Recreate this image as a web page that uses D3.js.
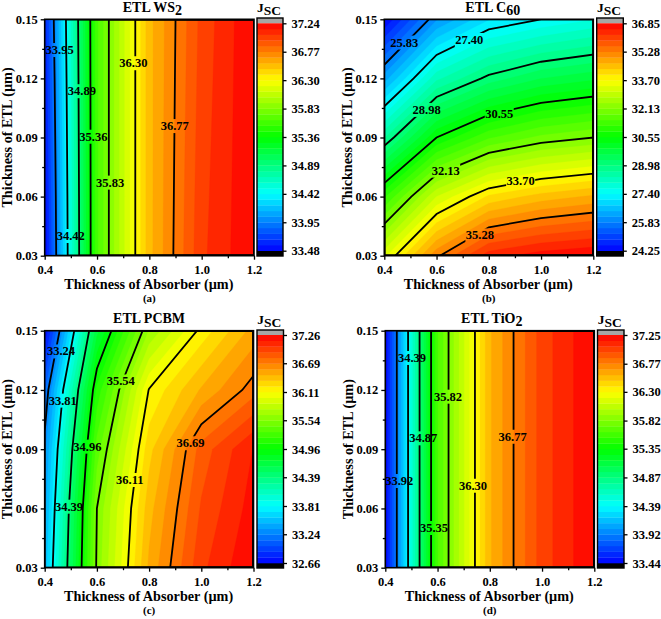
<!DOCTYPE html>
<html><head><meta charset="utf-8">
<script src="https://cdn.jsdelivr.net/npm/d3@7"></script>
<style>
html,body{margin:0;padding:0;background:#fff}
svg{display:block}
text{font-family:"Liberation Serif",serif;font-weight:bold;fill:#000}
</style></head><body>
<svg id="c" width="661" height="619"></svg>
<script>
// ---- data ----
const absorberGrid = [0.4, 0.6, 0.8, 1.0, 1.2];
const etlGrid = [0.03, 0.06, 0.09, 0.12, 0.15];
const xTicks = [0.4, 0.6, 0.8, 1.0, 1.2];
const yTicks = [0.03, 0.06, 0.09, 0.12, 0.15];

const titles = ["WS", "C", "PCBM", "TiO"];
const titleSubs = ["2", "60", "", "2"];
const panelTags = ["(a)", "(b)", "(c)", "(d)"];

// rows follow etlGrid, columns follow absorberGrid
const jscWS2 = [
  [33.48, 35.62, 36.55, 37.03, 37.24],
  [33.50, 35.62, 36.55, 37.02, 37.24],
  [33.53, 35.62, 36.55, 37.01, 37.24],
  [33.56, 35.62, 36.55, 37.00, 37.24],
  [33.60, 35.62, 36.55, 36.99, 37.24]
];
const jscC60 = [
  [33.30, 35.20, 36.40, 36.70, 36.85],
  [31.12, 33.07, 34.07, 34.47, 34.70],
  [28.63, 30.55, 31.45, 31.90, 32.13],
  [26.30, 28.26, 29.10, 29.60, 29.85],
  [24.25, 26.10, 27.05, 27.40, 27.70]
];
const jscPCBM = [
  [33.49, 35.57, 36.48, 37.00, 37.26],
  [33.40, 35.54, 36.41, 36.93, 37.20],
  [33.30, 35.36, 36.30, 36.85, 37.15],
  [33.10, 35.11, 36.12, 36.47, 36.75],
  [32.66, 34.69, 35.66, 36.15, 36.50]
];
const jscTiO2 = [
  [33.44, 35.62, 36.57, 37.01, 37.25],
  [33.44, 35.62, 36.57, 37.01, 37.25],
  [33.44, 35.62, 36.57, 37.01, 37.25],
  [33.44, 35.62, 36.57, 37.01, 37.25],
  [33.44, 35.62, 36.57, 37.01, 37.25]
];
const grids = [jscWS2, jscC60, jscPCBM, jscTiO2];

const scaleWS2 = [33.48, 33.95, 34.42, 34.89, 35.36, 35.83, 36.30, 36.77, 37.24];
const scaleC60 = [24.25, 25.83, 27.40, 28.98, 30.55, 32.13, 33.70, 35.28, 36.85];
const scalePCBM = [32.66, 33.24, 33.81, 34.39, 34.96, 35.54, 36.11, 36.69, 37.26];
const scaleTiO2 = [33.44, 33.92, 34.39, 34.87, 35.35, 35.82, 36.30, 36.77, 37.25];
const scales = [scaleWS2, scaleC60, scalePCBM, scaleTiO2];

// where each contour's label sits, in axis units
const labelAtWS2 = [[33.95,.457,.1344],[34.42,.4995,.0400],[34.89,.542,.1135],[35.36,.586,.0904],[35.83,.650,.0671],[36.30,.739,.1277],[36.77,.897,.0958]];
const labelAtC60 = [[25.83,.4766,.1382],[27.40,.7253,.1395],[28.98,.562,.104],[30.55,.840,.1018],[32.13,.635,.0732],[33.70,.922,.0679],[35.28,.766,.0403]];
const labelAtPCBM = [[33.24,.4626,.1395],[33.81,.469,.1146],[34.39,.4933,.0609],[34.96,.5636,.0913],[35.54,.6913,.1243],[36.11,.7259,.0744],[36.69,.9585,.0930]];
const labelAtTiO2 = [[33.92,.4536,.0739],[34.39,.502,.1362],[34.87,.5454,.0955],[35.35,.5863,.0501],[35.82,.64,.1166],[36.30,.7355,.0715],[36.77,.8874,.0963]];
const labelAts = [labelAtWS2, labelAtC60, labelAtPCBM, labelAtTiO2];

// ---- layout ----
const frames = [
  {l:44.7, r:254, t:19.3, b:255.7, bl:257, br:283, bt:18, bb:256, by1:23.3, by0:250.7, tdx:3},
  {l:384.3, r:593.3, t:19.3, b:255.7, bl:596.7, br:623.3, bt:18, bb:256, by1:23.3, by0:250.7, tdx:4},
  {l:44.7, r:253.5, t:330.7, b:567.7, bl:257, br:283.5, bt:330, bb:568, by1:335, by0:563, tdx:0},
  {l:385.3, r:594.3, t:330.7, b:567.7, bl:597.5, br:624, bt:330, bb:568, by1:335, by0:563, tdx:2}
];
const BANDS = 40;
const colour = d3.scaleLinear().domain([0,.25,.5,.75,1]).range(["#0000ff","#00ffff","#00ff00","#ffff00","#ff0000"]);
const svg = d3.select("#c");
const defs = svg.append("defs");

frames.forEach((f, p) => {
  const vals = grids[p], lv = scales[p];
  const min = lv[0], max = lv[lv.length-1];
  const x = d3.scaleLinear().domain([0.4,1.2]).range([f.l,f.r]);
  const y = d3.scaleLinear().domain([0.03,0.15]).range([f.b,f.t]);
  const col = d3.scaleLinear().domain(d3.range(absorberGrid.length)).range(absorberGrid);
  const row = d3.scaleLinear().domain(d3.range(etlGrid.length)).range(etlGrid);
  const g = svg.append("g");

  defs.append("clipPath").attr("id","clip"+p).append("rect")
    .attr("x",f.l).attr("y",f.t).attr("width",f.r-f.l).attr("height",f.b-f.t);

  const flat = vals.flat();
  const nx = absorberGrid.length, ny = etlGrid.length;
  const contours = d3.contours().size([nx,ny]).smooth(true);
  const path = d3.geoPath(d3.geoTransform({
    point(a,b){
      const c = Math.min(nx-1,Math.max(0,a-.5)), r = Math.min(ny-1,Math.max(0,b-.5));
      this.stream.point(x(col(c)), y(row(r)));
    }
  }));
  const plot = g.append("g").attr("clip-path",`url(#clip${p})`);
  const step = (max-min)/BANDS;
  const bandIdx = d3.range(BANDS);
  plot.append("rect").attr("x",f.l).attr("y",f.t).attr("width",f.r-f.l).attr("height",f.b-f.t)
    .attr("fill",colour(.5/BANDS));
  plot.selectAll("path.band").data(bandIdx.slice(1)).join("path").attr("class","band")
    .attr("d",i=>path(contours.contour(flat,min+i*step)))
    .attr("fill",i=>colour((i+.5)/BANDS)).attr("stroke",i=>colour((i+.5)/BANDS)).attr("stroke-width",.3);

  // contour lines, each broken under its own label only
  labelAts[p].forEach(([v,lx,ly],k)=>{
    const id = `m${p}_${k}`;
    const m = defs.append("mask").attr("id",id).attr("maskUnits","userSpaceOnUse")
      .attr("x",f.l).attr("y",f.t).attr("width",f.r-f.l).attr("height",f.b-f.t);
    m.append("rect").attr("x",f.l).attr("y",f.t).attr("width",f.r-f.l).attr("height",f.b-f.t).attr("fill","#fff");
    m.append("rect").attr("x",x(lx)-14.5).attr("y",y(ly)-7).attr("width",29).attr("height",14).attr("fill","#000");
    plot.append("g").attr("mask",`url(#${id})`).append("path")
      .attr("d",path(contours.contour(flat,v)))
      .attr("fill","none").attr("stroke","#000").attr("stroke-width",1.8);
  });
  labelAts[p].forEach(([v,lx,ly])=>{
    g.append("text").attr("x",x(lx)).attr("y",y(ly)+4).attr("text-anchor","middle")
      .attr("font-size",12.5).text(v.toFixed(2));
  });

  // frame
  g.append("rect").attr("x",f.l).attr("y",f.t).attr("width",f.r-f.l).attr("height",f.b-f.t)
    .attr("fill","none").attr("stroke","#000").attr("stroke-width",1.6);

  // axes
  const style = s=>{s.select(".domain").remove();s.selectAll("line").attr("stroke","#000").attr("stroke-width",1.3);
    s.selectAll("text").attr("font-size",12.5);};
  const xMinor = d3.pairs(xTicks).map(d=>(d[0]+d[1])/2);
  const yMinor = d3.pairs(yTicks).map(d=>(d[0]+d[1])/2);
  g.append("g").attr("transform",`translate(0,${f.b})`)
    .call(d3.axisBottom(x).tickValues(xTicks).tickFormat(d3.format(".1f")).tickSize(4).tickPadding(5)).call(style);
  g.append("g").attr("transform",`translate(0,${f.b})`)
    .call(d3.axisBottom(x).tickValues(xMinor).tickFormat("").tickSize(2.5)).call(style);
  g.append("g").attr("transform",`translate(${f.l},0)`)
    .call(d3.axisLeft(y).tickValues(yTicks).tickFormat(d3.format(".2f")).tickSize(4).tickPadding(3)).call(style);
  g.append("g").attr("transform",`translate(${f.l},0)`)
    .call(d3.axisLeft(y).tickValues(yMinor).tickFormat("").tickSize(2.5)).call(style);

  // axis titles
  const cx = (f.l+f.r)/2;
  g.append("text").attr("x",cx-.5).attr("y",f.b+33).attr("text-anchor","middle").attr("font-size",14.2).text("Thickness of Absorber (µm)");
  g.append("text").attr("x",cx).attr("y",f.b+46.2).attr("text-anchor","middle").attr("font-size",11).text(panelTags[p]);
  g.append("text").attr("transform",`translate(${f.l-32.5},${(f.t+f.b)/2}) rotate(-90)`).attr("text-anchor","middle")
    .attr("font-size",14.2).text("Thickness of ETL (µm)");

  // title
  const tt = g.append("text").attr("x",cx+f.tdx).attr("y",f.t-7.5).attr("text-anchor","middle").attr("font-size",14);
  tt.append("tspan").text("ETL "+titles[p]);
  if(titleSubs[p]) tt.append("tspan").attr("dy",3).text(titleSubs[p]);

  // colour bar
  const by = d3.scaleLinear().domain([min,max]).range([f.by0,f.by1]);
  g.append("rect").attr("x",f.bl).attr("y",f.bt).attr("width",f.br-f.bl).attr("height",f.by1-f.bt).attr("fill","#a6a6a6");
  g.append("rect").attr("x",f.bl).attr("y",f.by0).attr("width",f.br-f.bl).attr("height",f.bb-f.by0).attr("fill","#000");
  g.selectAll("rect.cb").data(bandIdx).join("rect").attr("class","cb")
    .attr("x",f.bl).attr("width",f.br-f.bl)
    .attr("y",i=>by(min+(i+1)*step)).attr("height",i=>by(min+i*step)-by(min+(i+1)*step)+.3)
    .attr("fill",i=>colour((i+.5)/BANDS));
  g.append("rect").attr("x",f.bl).attr("y",f.bt).attr("width",f.br-f.bl).attr("height",f.bb-f.bt)
    .attr("fill","none").attr("stroke","#000").attr("stroke-width",1.4);
  g.append("g").attr("transform",`translate(${f.br},0)`)
    .call(d3.axisRight(by).tickValues(lv).tickFormat(d3.format(".2f")).tickSize(3.5).tickPadding(5)).call(style);
  const jt = g.append("text").attr("x",(f.bl+f.br)/2-1).attr("y",f.bt-5.8).attr("text-anchor","middle").attr("font-size",13.5);
  jt.append("tspan").text("J");
  jt.append("tspan").attr("dy",2.8).text("SC");
});
</script></body></html>
